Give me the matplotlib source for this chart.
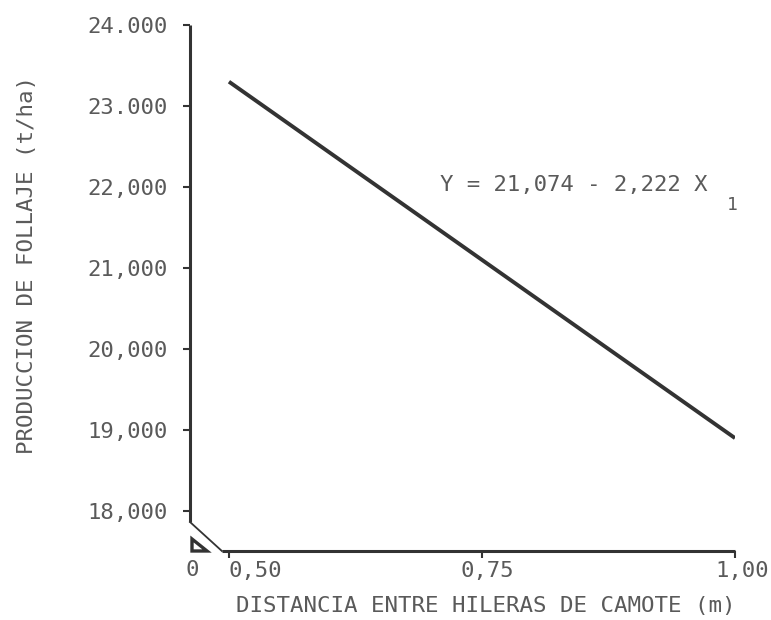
import matplotlib.pyplot as plt
from matplotlib.patches import Polygon
import matplotlib.transforms as mtransforms

# ---------- data ----------
dist = [0.50, 1.00]                 # distancia entre hileras (m)
follaje = [23.30, 18.90]            # produccion de follaje (t/ha, miles)

yticks = [18, 19, 20, 21, 22, 23, 24]
ytick_labels = ['18,000', '19,000', '20,000', '21,000', '22,000', '23.000', '24.000']
xticks = [0.50, 0.75, 1.00]
xtick_labels = ['0,50', '0,75', '1,00']

ink = '#333333'
txt = '#5a5a5a'
fs = 16
plt.rcParams['font.family'] = ['DejaVu Sans Mono']

fig = plt.figure(figsize=(7.71, 6.2), dpi=100)
ax = fig.add_axes([190 / 771, 69 / 620, 545 / 771, 526 / 620])
ax.set_xlim(0.4615, 1.0)
ax.set_ylim(17.506, 24.0)

ax.plot(dist, follaje, color=ink, lw=2.8, solid_capstyle='butt')

# spines
for s in ['top', 'right']:
    ax.spines[s].set_visible(False)
ax.spines['left'].set_bounds(17.864, 24.0)
ax.spines['bottom'].set_bounds(0.493, 1.0)
for s in ['left', 'bottom']:
    ax.spines[s].set_linewidth(2.2)
    ax.spines[s].set_color(ink)
    ax.spines[s].set_capstyle('butt')

# broken-axis diagonal
ax.plot([0.4615, 0.493], [17.864, 17.506], color=ink, lw=1.3, clip_on=False)

# break marker (small triangle) below origin, in pixels
tri = Polygon([(192, 69), (192, 81), (207, 69)], closed=True, fill=False,
              edgecolor=ink, lw=2.4, transform=mtransforms.IdentityTransform())
fig.patches.append(tri)

ax.set_yticks(yticks)
ax.set_yticklabels(ytick_labels, fontsize=fs, color=txt)
ax.set_xticks(xticks)
ax.set_xticklabels(xtick_labels, fontsize=fs, color=txt)
ax.tick_params(axis='y', direction='out', length=5, width=1.5, color=ink, pad=11)
ax.tick_params(axis='x', direction='out', length=5, width=1.5, color=ink, pad=2)

# nudge x tick labels as placed in the original
for lab, dx in zip(ax.get_xticklabels(), [26, 5, 7]):
    lab.set_transform(lab.get_transform() + mtransforms.ScaledTranslation(dx / 100, 0, fig.dpi_scale_trans))

ax.text(0.4635, -0.018, '0', transform=ax.get_xaxis_transform(), ha='center', va='top',
        fontsize=fs, color=txt)

ax.set_xlabel('DISTANCIA ENTRE HILERAS DE CAMOTE (m)', fontsize=16.2, color=txt)
ax.xaxis.set_label_coords(0.543, -0.085)
ax.set_ylabel('PRODUCCION DE FOLLAJE (t/ha)', fontsize=16.2, color=txt)
ax.yaxis.set_label_coords(-0.28, 0.544)

ax.text(0.7085, 22.02, 'Y = 21,074 - 2,222 X', fontsize=fs, color=txt, ha='left', va='center')
ax.text(0.992, 21.78, '1', fontsize=13, color=txt, ha='left', va='center')

fig.savefig('out.png', dpi=100)
